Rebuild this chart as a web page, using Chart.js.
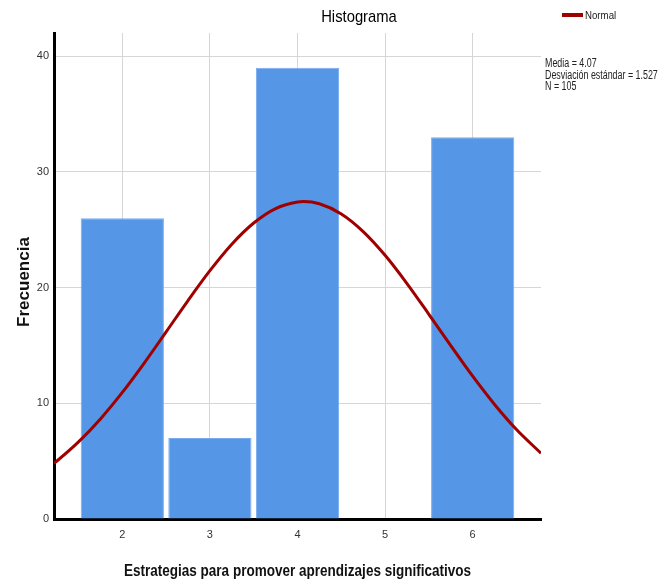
<!DOCTYPE html>
<html>
<head>
<meta charset="utf-8">
<script src="https://cdn.jsdelivr.net/npm/chart.js@4.4.1/dist/chart.umd.min.js"></script>
<style>
  html, body { margin: 0; padding: 0; background: #fff; }
  #wrap { width: 664px; height: 583px; }
</style>
</head>
<body>
<div id="wrap"><canvas id="hist" width="664" height="583"></canvas></div>
<script>
// histogram bins (centre value) and counts
const binCenters = [2, 3, 4, 5, 6];
const counts = [26, 7, 39, 0, 33];

// normal curve
const curveX = [1.22, 1.25, 1.5, 1.75, 2.0, 2.25, 2.5, 2.75, 3.0, 3.25, 3.5, 3.75, 4.0, 4.07,
                4.25, 4.5, 4.75, 5.0, 5.25, 5.5, 5.75, 6.0, 6.25, 6.5, 6.78];
const curveY = [4.81, 4.99, 6.66, 8.65, 10.94, 13.48, 16.17, 18.88, 21.46, 23.75, 25.58, 26.83, 27.40, 27.43,
                27.24, 26.36, 24.84, 22.79, 20.35, 17.69, 14.98, 12.34, 9.90, 7.73, 5.68];

const xTicks = [2, 3, 4, 5, 6];
const yTicks = [0, 10, 20, 30, 40];

const statLines = ["Media = 4.07", "Desviación estándar = 1.527", "N = 105"];

const FONT = '"Liberation Sans", Arial, sans-serif';

// the original uses a narrow face, so squeeze the text horizontally
function narrowText(c, text, x, y, font, align, squeeze, rotate) {
    c.save();
    c.font = font;
    c.textAlign = align;
    c.textBaseline = 'middle';
    c.translate(x, y);
    if (rotate) c.rotate(-Math.PI / 2);
    c.scale(squeeze, 1);
    c.fillText(text, 0, 0);
    c.restore();
}

document.addEventListener("DOMContentLoaded", function() {
    const ctx = document.getElementById('hist').getContext('2d');

    const extras = {
        id: 'extras',
        afterDraw(chart) {
            const c = chart.ctx;
            const area = chart.chartArea;
            c.save();
            c.fillStyle = '#000';
            narrowText(c, 'Histograma', 359, 17, '17px ' + FONT, 'center', 0.87);

            c.fillStyle = '#111';
            narrowText(c, 'Estrategias para promover aprendizajes significativos',
                (area.left + area.right) / 2, 572, 'bold 16px ' + FONT, 'center', 0.845);
            narrowText(c, 'Frecuencia', 24, 282, 'bold 17px ' + FONT, 'center', 1.0, true);

            // legend
            c.strokeStyle = '#a00000';
            c.lineWidth = 4;
            c.beginPath();
            c.moveTo(562, 15);
            c.lineTo(583, 15);
            c.stroke();
            c.fillStyle = '#222';
            narrowText(c, 'Normal', 585, 16, '11px ' + FONT, 'left', 0.88);

            statLines.forEach(function(t, i) {
                narrowText(c, t, 545, 64 + i * 11.5, '12px ' + FONT, 'left', 0.74);
            });
            c.restore();
        }
    };

    new Chart(ctx, {
        type: 'bar',
        data: {
            datasets: [{
                type: 'line',
                label: 'Normal',
                data: curveX.map((x, i) => ({ x: x, y: curveY[i] })),
                borderColor: '#a00000',
                borderWidth: 3,
                pointRadius: 0,
                cubicInterpolationMode: 'monotone',
                fill: false,
                order: 0
            }, {
                label: 'Frecuencia',
                data: binCenters.map((x, i) => ({ x: x, y: counts[i] })),
                backgroundColor: '#5596e6',
                borderColor: '#79acee',
                borderWidth: 1,
                categoryPercentage: 1,
                barPercentage: 0.95,
                order: 1
            }]
        },
        options: {
            responsive: false,
            animation: false,
            layout: { padding: { top: 33, right: 123, left: 0, bottom: 0 } },
            plugins: {
                legend: { display: false },
                tooltip: { enabled: false }
            },
            scales: {
                x: {
                    type: 'linear',
                    min: 1.22,
                    max: 6.78,
                    offset: false,
                    afterBuildTicks: (scale) => { scale.ticks = xTicks.map(v => ({ value: v })); },
                    afterFit: (scale) => { scale.height = 64; },
                    ticks: { font: { family: FONT, size: 11 }, color: '#333', padding: 9 },
                    grid: { color: '#d6d6d6', drawTicks: false, offset: false },
                    border: { color: '#000', width: 3 }
                },
                y: {
                    min: 0,
                    max: 42,
                    afterBuildTicks: (scale) => { scale.ticks = yTicks.map(v => ({ value: v })); },
                    afterFit: (scale) => { scale.width = 54; },
                    ticks: { font: { family: FONT, size: 11 }, color: '#333', padding: 5 },
                    grid: { color: '#d6d6d6', drawTicks: false },
                    border: { color: '#000', width: 3 }
                }
            }
        },
        plugins: [extras]
    });
});
</script>
</body>
</html>
